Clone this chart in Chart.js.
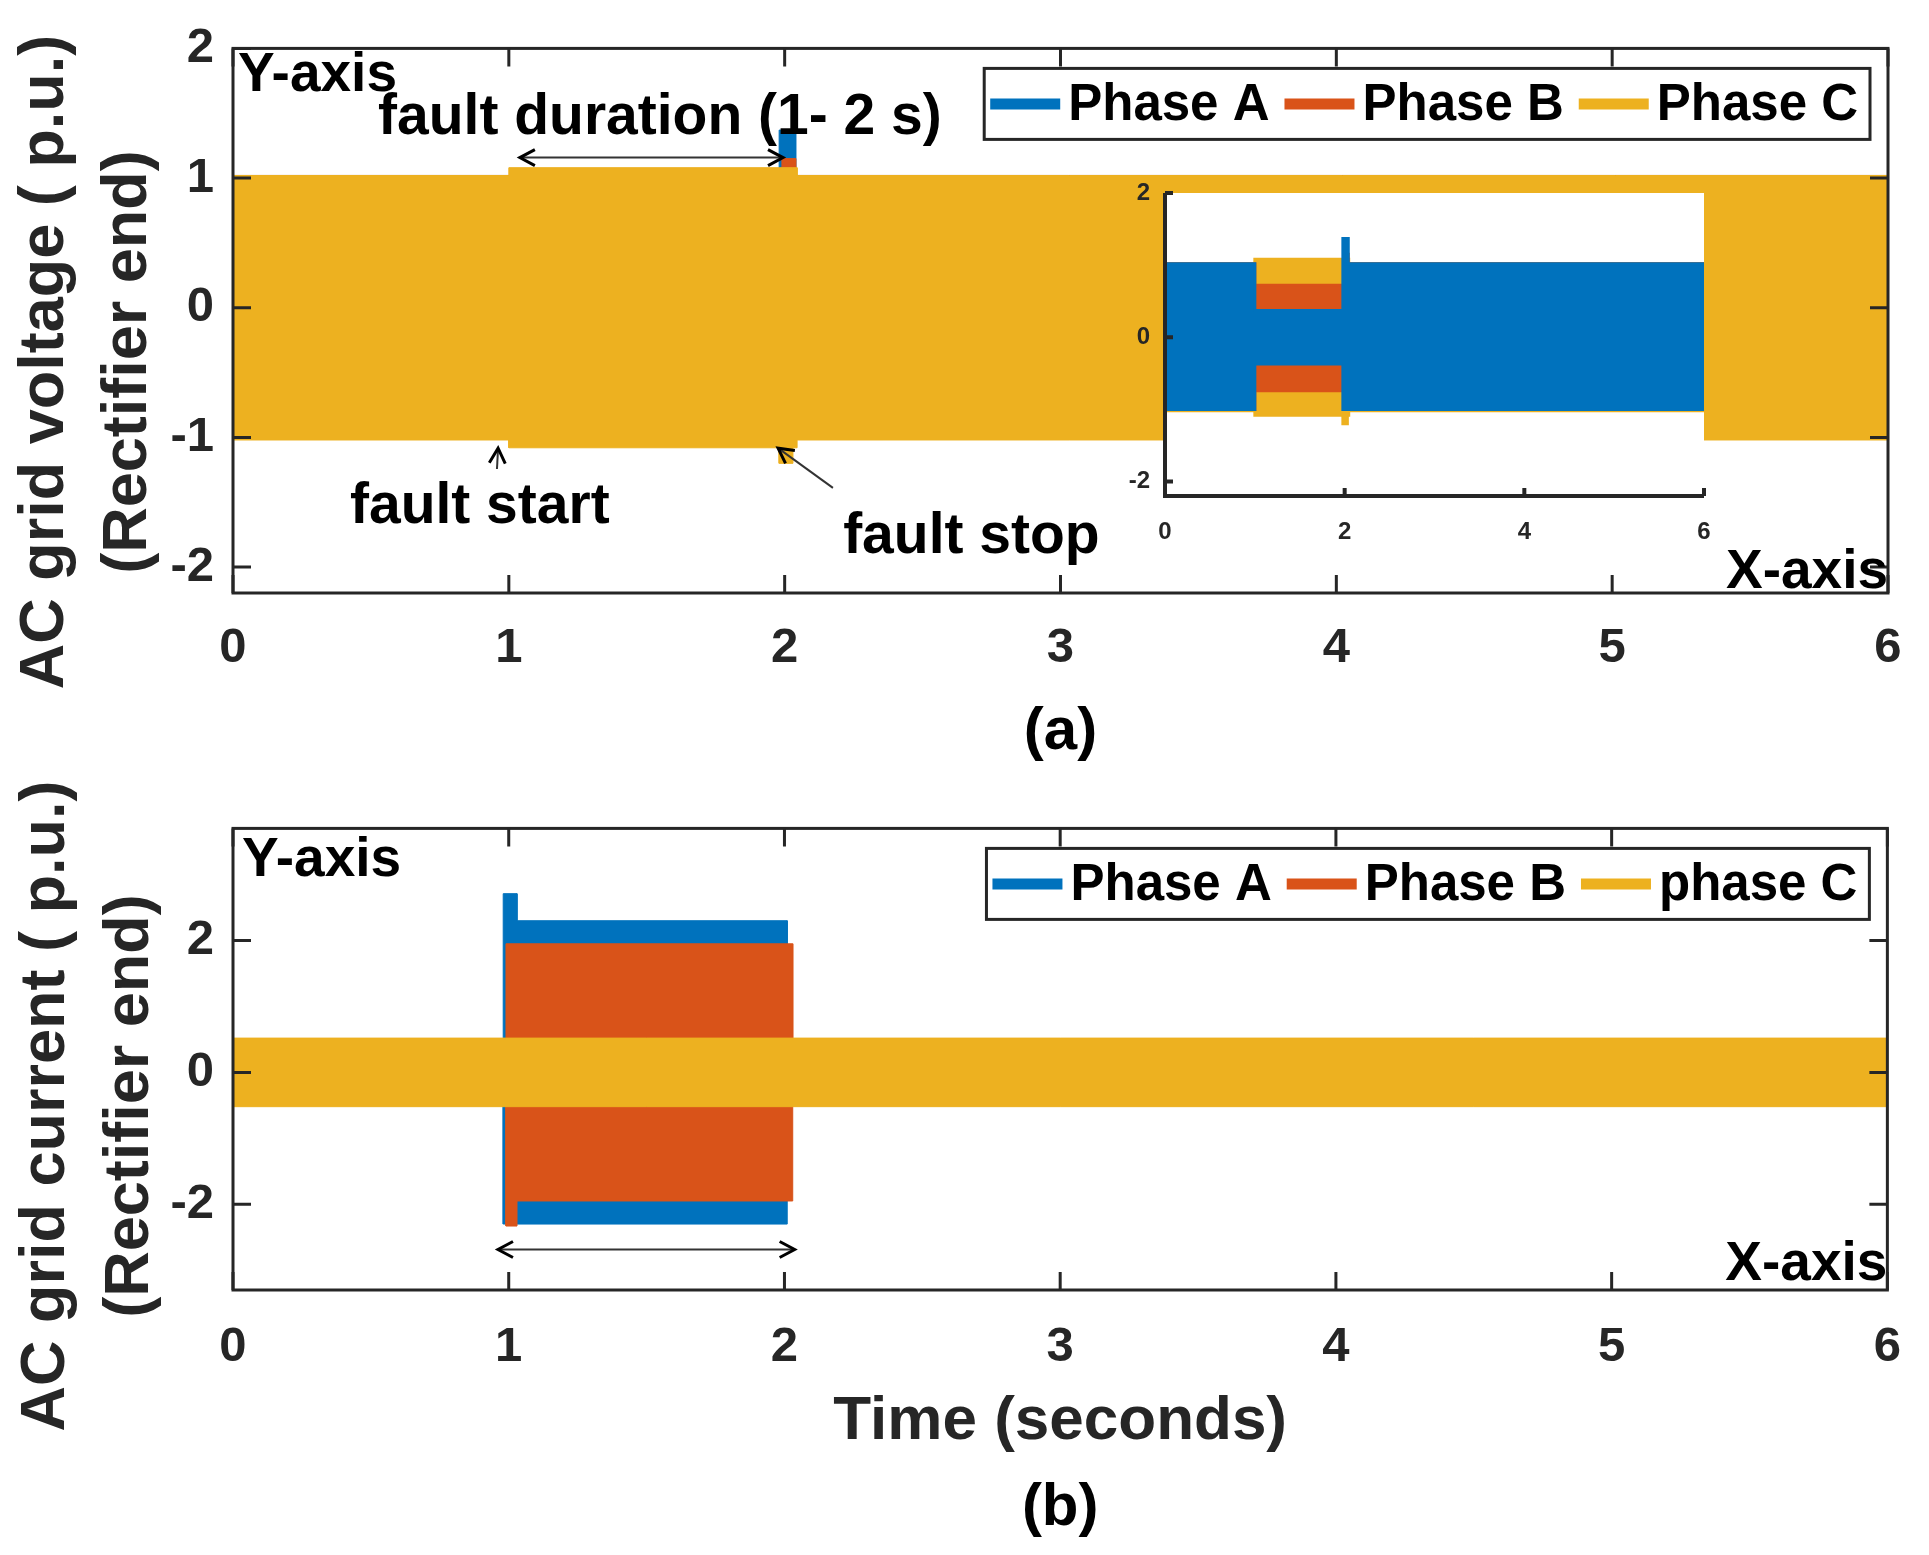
<!DOCTYPE html>
<html>
<head>
<meta charset="utf-8">
<script src="https://cdn.jsdelivr.net/npm/chart.js@4.4.1/dist/chart.umd.min.js"></script>
<style>
  body { margin: 0; background: #fff; }
  #wrap { position: relative; width: 1929px; height: 1555px; }
  canvas { position: absolute; }
  #voltage { left: 0; top: 0; }
  #current { left: 0; top: 780px; }
  #inset { left: 1100px; top: 150px; }
</style>
</head>
<body>
<div id="wrap">
  <canvas id="voltage" width="1929" height="780"></canvas>
  <canvas id="current" width="1929" height="775"></canvas>
  <canvas id="inset" width="640" height="420"></canvas>
</div>
<script>
const FONT = '"Liberation Sans", Arial, sans-serif';
Chart.defaults.font.family = FONT;
Chart.defaults.font.weight = 'bold';
Chart.defaults.color = '#262626';

// legend names and colours
const phaseNamesV = ['Phase A', 'Phase B', 'Phase C'];
const phaseNamesI = ['Phase A', 'Phase B', 'phase C'];
const phaseColors = ['#0072BD', '#D95319', '#EDB120'];

// tick values
const timeTicks = [0, 1, 2, 3, 4, 5, 6];
const voltTicks = [-2, -1, 0, 1, 2];
const currTicks = [-2, 0, 2];
const insetXTicks = [0, 2, 4, 6];
const insetYTicks = [-2, 0, 2];

// voltage envelopes (p.u.) - the 50 Hz waves are too dense to resolve, so each phase is its band
const vaTime = [0, 1, 1, 1.98, 1.98, 2.04, 2.04, 6];
const vaUpper = [1.02, 1.02, 0.37, 0.37, 1.37, 1.37, 1.02, 1.02];
const vaLower = [-1.0, -1.0, -0.37, -0.37, -1.0, -1.0, -1.0, -1.0];
const vbTime = [0, 1, 1, 1.99, 1.99, 2.04, 2.04, 6];
const vbUpper = [1.02, 1.02, 0.72, 0.72, 1.15, 1.15, 1.02, 1.02];
const vbLower = [-1.0, -1.0, -0.74, -0.74, -1.0, -1.0, -1.0, -1.0];
const vcTime = [0, 1, 1, 1.98, 1.98, 2.03, 2.03, 2.045, 2.045, 6];
const vcUpper = [1.02, 1.02, 1.08, 1.08, 1.08, 1.08, 1.08, 1.08, 1.02, 1.02];
const vcLower = [-1.02, -1.02, -1.08, -1.08, -1.2, -1.2, -1.08, -1.08, -1.02, -1.02];

// current envelopes (p.u.)
const iaTime = [0, 0.98, 0.98, 1.03, 1.03, 2.01, 2.01, 6];
const iaUpper = [0.5, 0.5, 2.71, 2.71, 2.3, 2.3, 0.5, 0.5];
const iaLower = [-0.5, -0.5, -2.3, -2.3, -2.3, -2.3, -0.5, -0.5];
const ibTime = [0, 0.99, 0.99, 1.03, 1.03, 2.03, 2.03, 6];
const ibUpper = [0.5, 0.5, 1.95, 1.95, 1.95, 1.95, 0.5, 0.5];
const ibLower = [-0.5, -0.5, -2.33, -2.33, -1.95, -1.95, -0.5, -0.5];
const icTime = [0, 6];
const icUpper = [0.52, 0.52];
const icLower = [-0.52, -0.52];

const points = (t, v) => t.map((x, i) => ({ x: x, y: v[i] }));

// two datasets per phase, the upper one filled down to the lower one
const bandSets = function bandSets(names, times, uppers, lowers, orders, width) {
  var sets = [];
  names.forEach((name, k) => {
    sets.push({ label: name, data: points(times[k], uppers[k]), borderColor: phaseColors[k], backgroundColor: phaseColors[k], borderWidth: width, fill: '+1', order: orders[k] });
    sets.push({ label: name, data: points(times[k], lowers[k]), borderColor: phaseColors[k], backgroundColor: phaseColors[k], borderWidth: width, fill: false, order: orders[k] });
  });
  return sets;
};

const fixTicks = values => scale => { scale.ticks = values.map(v => ({ value: v })); };

const drawText = function drawText(ctx, text, x, y, size, align, baseline) {
  ctx.font = 'bold ' + size + 'px ' + FONT;
  ctx.textAlign = align || 'left';
  ctx.textBaseline = baseline || 'alphabetic';
  ctx.fillStyle = '#000';
  ctx.fillText(text, x, y);
};

const arrowHead = function arrowHead(ctx, x1, y1, x2, y2, len, wid) {
  const a = Math.atan2(y2 - y1, x2 - x1);
  ctx.beginPath();
  ctx.moveTo(x2 - len * Math.cos(a) + wid * Math.sin(a), y2 - len * Math.sin(a) - wid * Math.cos(a));
  ctx.lineTo(x2, y2);
  ctx.lineTo(x2 - len * Math.cos(a) - wid * Math.sin(a), y2 - len * Math.sin(a) + wid * Math.cos(a));
  ctx.stroke();
};

const drawArrow = function drawArrow(chart, from, to, both) {
  const ctx = chart.ctx, xs = chart.scales.x, ys = chart.scales.y;
  const x1 = xs.getPixelForValue(from[0]), y1 = ys.getPixelForValue(from[1]);
  const x2 = xs.getPixelForValue(to[0]), y2 = ys.getPixelForValue(to[1]);
  ctx.save();
  ctx.strokeStyle = '#333';
  ctx.lineWidth = 2;
  ctx.beginPath();
  ctx.moveTo(x1, y1);
  ctx.lineTo(x2, y2);
  ctx.stroke();
  ctx.strokeStyle = '#000';
  ctx.lineWidth = 3;
  arrowHead(ctx, x1, y1, x2, y2, 15, 8);
  if (both) arrowHead(ctx, x2, y2, x1, y1, 15, 8);
  ctx.restore();
};

const drawNote = function drawNote(chart, text, at, size, align) {
  drawText(chart.ctx, text, chart.scales.x.getPixelForValue(at[0]), chart.scales.y.getPixelForValue(at[1]), size, align);
};

const drawLegend = function drawLegend(chart, names) {
  const ctx = chart.ctx, area = chart.chartArea;
  ctx.save();
  ctx.font = 'bold 51px ' + FONT;
  const widths = names.map(n => ctx.measureText(n).width);
  const total = 6 + names.length * 78 + widths.reduce((a, b) => a + b, 0) + (names.length - 1) * 15 + 12;
  const right = area.right - 18, top = area.top + 20, h = 71;
  const left = right - total;
  ctx.fillStyle = '#fff';
  ctx.fillRect(left, top, total, h);
  ctx.strokeStyle = '#262626';
  ctx.lineWidth = 3;
  ctx.strokeRect(left, top, total, h);
  var x = left + 6;
  names.forEach((n, k) => {
    ctx.strokeStyle = phaseColors[k];
    ctx.lineWidth = 11;
    ctx.beginPath();
    ctx.moveTo(x, top + h / 2);
    ctx.lineTo(x + 70, top + h / 2);
    ctx.stroke();
    x += 78;
    drawText(ctx, n, x, top + h / 2 + 2, 51, 'left', 'middle');
    x += widths[k] + 15;
  });
  ctx.restore();
};

const drawYTitle = function drawYTitle(ctx, lines, xs, cy) {
  lines.forEach((t, i) => {
    ctx.save();
    ctx.translate(xs[i], cy);
    ctx.rotate(-Math.PI / 2);
    ctx.font = 'bold 63px ' + FONT;
    ctx.fillStyle = '#262626';
    ctx.textAlign = 'center';
    ctx.textBaseline = 'alphabetic';
    ctx.fillText(t, 0, 0);
    ctx.restore();
  });
};

// MATLAB style box with inward ticks on all four sides
const boxFrame = {
  id: 'boxFrame',
  afterDatasetsDraw: chart => {
    const ctx = chart.ctx, a = chart.chartArea, xs = chart.scales.x, ys = chart.scales.y;
    ctx.save();
    ctx.strokeStyle = '#262626';
    ctx.lineWidth = 3;
    ctx.strokeRect(a.left, a.top, a.right - a.left, a.bottom - a.top);
    ctx.beginPath();
    xs.ticks.forEach(t => {
      const px = xs.getPixelForValue(t.value);
      ctx.moveTo(px, a.bottom); ctx.lineTo(px, a.bottom - 18);
      ctx.moveTo(px, a.top); ctx.lineTo(px, a.top + 18);
    });
    ys.ticks.forEach(t => {
      const py = ys.getPixelForValue(t.value);
      ctx.moveTo(a.left, py); ctx.lineTo(a.left + 18, py);
      ctx.moveTo(a.right, py); ctx.lineTo(a.right - 18, py);
    });
    ctx.stroke();
    ctx.restore();
  }
};

const baseOptions = function baseOptions() {
  return {
    responsive: false,
    animation: false,
    devicePixelRatio: 1,
    events: [],
    elements: { point: { radius: 0 }, line: { tension: 0 } },
    plugins: { legend: { display: false }, tooltip: { enabled: false } }
  };
};

const axis = function axis(min, max, ticks, size, pad, fit) {
  return {
    type: 'linear', min: min, max: max,
    afterBuildTicks: fixTicks(ticks),
    afterFit: fit,
    grid: { display: false, drawTicks: false },
    border: { display: false },
    ticks: { font: { size: size, weight: 'bold' }, color: '#262626', padding: pad, maxRotation: 0, autoSkip: false }
  };
};

// (a) voltage
var optsV = baseOptions();
optsV.layout = { padding: { left: 0, right: 41, top: 44, bottom: 87 } };
optsV.scales = {
  x: axis(0, 6, timeTicks, 49, 26, s => { s.height = 100; }),
  y: axis(-2.2, 2, voltTicks, 49, 19, s => { s.width = 233; })
};
new Chart(document.getElementById('voltage'), {
  type: 'line',
  data: { datasets: bandSets(phaseNamesV, [vaTime, vbTime, vcTime], [vaUpper, vbUpper, vcUpper], [vaLower, vbLower, vcLower], [3, 2, 1], 1) },
  options: optsV,
  plugins: [boxFrame, {
    afterDraw: chart => {
      const ctx = chart.ctx, a = chart.chartArea;
      drawNote(chart, 'Y-axis', [0.018, 1.671], 55, 'left');
      drawNote(chart, 'fault duration (1- 2 s)', [0.526, 1.342], 57, 'left');
      drawArrow(chart, [1.04, 1.158], [1.994, 1.158], true);
      drawNote(chart, 'fault start', [0.424, -1.657], 57, 'left');
      drawArrow(chart, [0.957, -1.244], [0.961, -1.083], false);
      drawNote(chart, 'fault stop', [2.212, -1.894], 57, 'left');
      drawArrow(chart, [2.175, -1.389], [1.976, -1.083], false);
      drawNote(chart, 'X-axis', [6, -2.162], 55, 'right');
      drawLegend(chart, phaseNamesV);
      drawYTitle(ctx, ['AC grid voltage ( p.u.)', '(Rectifier end)'], [63, 146], 362);
      drawText(ctx, '(a)', (a.left + a.right) / 2, 732, 60, 'center', 'middle');
    }
  }]
});

// (b) current
var optsI = baseOptions();
optsI.layout = { padding: { left: 0, right: 41, top: 43, bottom: 96 } };
optsI.scales = {
  x: axis(0, 6, timeTicks, 49, 28, s => { s.height = 169; }),
  y: axis(-3.3, 3.7, currTicks, 49, 19, s => { s.width = 233; })
};
optsI.scales.x.title = { display: true, text: 'Time (seconds)', font: { size: 62, weight: 'bold' }, color: '#262626', padding: 0 };
new Chart(document.getElementById('current'), {
  type: 'line',
  data: { datasets: bandSets(phaseNamesI, [iaTime, ibTime, icTime], [iaUpper, ibUpper, icUpper], [iaLower, ibLower, icLower], [3, 2, 1], 1) },
  options: optsI,
  plugins: [boxFrame, {
    afterDraw: chart => {
      const ctx = chart.ctx, a = chart.chartArea;
      drawNote(chart, 'Y-axis', [0.033, 2.98], 55, 'left');
      drawArrow(chart, [0.961, -2.686], [2.037, -2.686], true);
      drawNote(chart, 'X-axis', [6, -3.15], 55, 'right');
      drawLegend(chart, phaseNamesI);
      drawYTitle(ctx, ['AC grid current ( p.u.)', '(Rectifier end)'], [64, 148], 326);
      drawText(ctx, '(b)', (a.left + a.right) / 2, 728, 60, 'center', 'middle');
    }
  }]
});

// inset: same voltage data, phase A drawn on top, white plot area, left/bottom axes only
var optsZ = baseOptions();
optsZ.layout = { padding: { left: 0, right: 36, top: 43, bottom: 24 } };
optsZ.scales = {
  x: axis(0, 6, insetXTicks, 24, 22, s => { s.height = 50; }),
  y: axis(-2.2, 2, insetYTicks, 24, 15, s => { s.width = 65; })
};
new Chart(document.getElementById('inset'), {
  type: 'line',
  data: { datasets: bandSets(phaseNamesV, [vaTime, vbTime, vcTime], [vaUpper, vbUpper, vcUpper], [vaLower, vbLower, vcLower], [1, 2, 3], 3) },
  options: optsZ,
  plugins: [{
    beforeDatasetsDraw: chart => {
      const a = chart.chartArea;
      chart.ctx.save();
      chart.ctx.fillStyle = '#fff';
      chart.ctx.fillRect(a.left, a.top, a.right - a.left, a.bottom - a.top);
      chart.ctx.restore();
    },
    afterDatasetsDraw: chart => {
      const ctx = chart.ctx, a = chart.chartArea, xs = chart.scales.x, ys = chart.scales.y;
      ctx.save();
      ctx.strokeStyle = '#262626';
      ctx.lineWidth = 4;
      ctx.beginPath();
      ctx.moveTo(a.left, a.top);
      ctx.lineTo(a.left, a.bottom);
      ctx.lineTo(a.right, a.bottom);
      xs.ticks.forEach(t => { const px = xs.getPixelForValue(t.value); ctx.moveTo(px, a.bottom); ctx.lineTo(px, a.bottom - 8); });
      ys.ticks.forEach(t => { const py = ys.getPixelForValue(t.value); ctx.moveTo(a.left, py); ctx.lineTo(a.left + 8, py); });
      ctx.stroke();
      ctx.restore();
    }
  }]
});
</script>
</body>
</html>
